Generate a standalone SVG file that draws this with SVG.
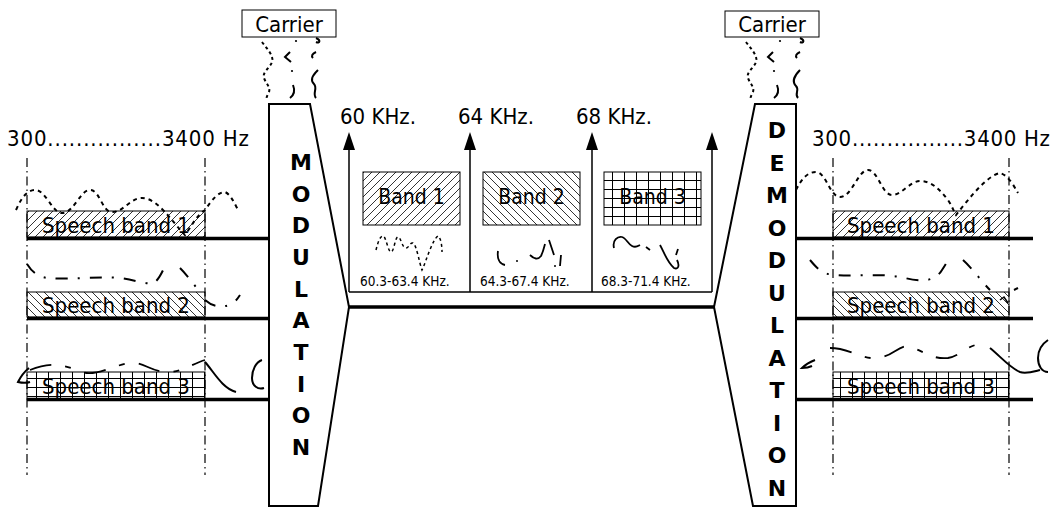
<svg xmlns="http://www.w3.org/2000/svg" width="1055" height="508" viewBox="0 0 1055 508">
<defs>
<style>
text{font-family:"DejaVu Sans Condensed","DejaVu Sans","Liberation Sans",sans-serif;font-stretch:condensed;fill:#000}
.lbl{font-size:22px}
.bnd{font-size:21px;text-anchor:middle}
.big{font-family:"DejaVu Sans","Liberation Sans",sans-serif;font-stretch:normal;font-size:22px;font-weight:bold;text-anchor:middle}
.sm{font-size:13.5px}
.box{stroke:#000;stroke-width:1}
.thick{stroke:#000;stroke-width:3.5;fill:none}
.thin{stroke:#000;stroke-width:1.5;fill:none}
.dd{stroke:#000;stroke-width:1.2;stroke-dasharray:9 4 1.5 4;fill:none}
.w1{stroke:#000;stroke-width:2;stroke-dasharray:4 4;fill:none}
.w2{stroke:#000;stroke-width:2;stroke-dasharray:12 10 2 10;fill:none}
.w3{stroke:#000;stroke-width:1.8;stroke-dasharray:22 14 6 14;fill:none}
.ws{stroke:#000;stroke-width:2;stroke-dasharray:3 3;fill:none}
.blk{fill:#fff;stroke:#000;stroke-width:2}
.head{fill:#000}
</style>
<pattern id="hf" patternUnits="userSpaceOnUse" width="8" height="8">
<path d="M-2,10 L10,-2 M-2,2 L2,-2 M6,10 L10,6" stroke="#000" stroke-width="0.8"/>
</pattern>
<pattern id="hb" patternUnits="userSpaceOnUse" width="8" height="8">
<path d="M-2,-2 L10,10 M-2,6 L2,10 M6,-2 L10,2" stroke="#000" stroke-width="0.8"/>
</pattern>
<pattern id="grid" patternUnits="userSpaceOnUse" width="12" height="9">
<path d="M0.5,0 V9 M0,0.5 H12" stroke="#000" stroke-width="1"/>
</pattern>
<path id="tri" d="M0,0 L6,18 L-6,18 Z"/>
</defs>
<rect width="1055" height="508" fill="#fff"/>

<g id="connectors">
<path class="thick" d="M27,238.5 H269 M27,318.5 H269 M27,399.5 H269"/>
<path class="thick" d="M796,238.5 H1033 M796,318.5 H1033 M796,399.5 H1033"/>
<path class="thick" d="M349,307 H714"/>
<path class="thin" d="M349,292 H712"/>
<path class="thin" d="M349,292 V146 M470,292 V146 M592,292 V146 M712,292 V146"/>
<use href="#tri" class="head" x="349" y="132"/>
<use href="#tri" class="head" x="470" y="132"/>
<use href="#tri" class="head" x="592" y="132"/>
<use href="#tri" class="head" x="712" y="132"/>
</g>

<g id="left-channels">
<text class="lbl" x="7" y="146" textLength="242" lengthAdjust="spacing">300................3400 Hz</text>
<path class="dd" d="M27,158 V475 M205,158 V475"/>
<rect class="box" x="27" y="211" width="178" height="26" fill="url(#hf)"/>
<rect class="box" x="27" y="292" width="178" height="25" fill="url(#hb)"/>
<rect class="box" x="27" y="372" width="178" height="27" fill="url(#grid)"/>
<text class="lbl" x="116" y="233" text-anchor="middle">Speech band 1</text>
<text class="lbl" x="116" y="313" text-anchor="middle">Speech band 2</text>
<text class="lbl" x="116" y="394" text-anchor="middle">Speech band 3</text>
<path class="w1" d="M16,210 C22,196 28,190 35,190 C46,190 52,213 62,213 C74,213 80,190 90,190 C100,190 102,212 112,212 C124,212 130,198 142,198 C158,198 172,222 185,235 C192,225 198,214 205,210 C212,200 218,192 225,192 C230,194 234,202 238,210"/>
<path class="w2" d="M27,264 C32,272 38,277 48,278 C70,280 100,276 120,278 C140,281 150,286 155,282 C160,278 163,270 166,264 M180,268 C188,276 194,285 200,292 M205,300 C212,306 220,309 232,304 C236,301 238,298 240,295"/>
<path class="w3" d="M30,370 C50,362 62,364 82,372 C96,377 110,366 130,363 C145,362 150,372 168,372 C182,372 192,364 205,360"/>
<path stroke="#000" stroke-width="2" fill="none" d="M29,368 C24,372 20,378 18,382 C22,383 27,383 30,382 M205,362 C214,372 222,388 236,392 M262,360 C256,362 252,370 252,378 C252,386 258,390 264,388"/>
</g>

<g id="carrier-left">
<rect class="box" x="242" y="10" width="94" height="27" fill="#fff"/>
<text class="lbl" x="289" y="32" text-anchor="middle">Carrier</text>
<path class="ws" d="M262,42 C268,50 274,56 272,62 C270,68 262,72 264,78 C266,84 272,88 268,94 C266,98 266,100 268,100"/>
<path stroke="#000" stroke-width="2" fill="none" d="M290,52 L285,57 L291,62 M293,85 C295,90 294,95 290,98"/>
<circle cx="292" cy="71" r="1.1" fill="#000"/>
<circle cx="296" cy="41" r="1.1" fill="#000"/>
<path stroke="#000" stroke-width="2" fill="none" d="M316,38 C321,40 320,44 316,42 M316,52 C312,54 311,56 313,58 M318,70 C312,76 310,80 314,84 C318,88 312,94 316,98"/>
</g>

<g id="modulation">
<polygon class="blk" points="269,104 310,104 349,307 318,506 269,506"/>
<text class="big" x="301" y="170">M</text>
<text class="big" x="301" y="201.7">O</text>
<text class="big" x="301" y="233.3">D</text>
<text class="big" x="301" y="265">U</text>
<text class="big" x="301" y="296.7">L</text>
<text class="big" x="301" y="328.3">A</text>
<text class="big" x="301" y="360">T</text>
<text class="big" x="301" y="391.7">I</text>
<text class="big" x="301" y="423.3">O</text>
<text class="big" x="301" y="455">N</text>
</g>

<g id="group-band">
<text class="lbl" x="340" y="124">60 KHz.</text>
<text class="lbl" x="458" y="124">64 KHz.</text>
<text class="lbl" x="576" y="124">68 KHz.</text>
<rect class="box" x="363" y="172" width="97" height="53" fill="url(#hf)"/>
<rect class="box" x="483" y="172" width="97" height="53" fill="url(#hb)"/>
<rect class="box" x="604" y="172" width="97" height="53" fill="url(#grid)"/>
<text class="bnd" x="411.5" y="204">Band 1</text>
<text class="bnd" x="531.5" y="204">Band 2</text>
<text class="bnd" x="652.5" y="204">Band 3</text>
<path stroke="#000" stroke-width="1.5" stroke-dasharray="3 3" fill="none" d="M376,250 C378,242 380,236 383,236 C386,236 388,252 391,252 C394,252 395,237 398,237 C401,237 402,248 406,248 C409,248 410,242 413,243 C417,246 419,262 422,270 C426,262 432,240 438,236 C441,238 442,246 442,252"/>
<path stroke="#000" stroke-width="1.8" fill="none" d="M498,251 C497,258 499,264 505,265 M530,255 C534,259 538,260 541,256 C543,252 544,248 545,244 M549,240 L554,255 M561,255 L560,266"/>
<circle cx="517" cy="261" r="1" fill="#000"/>
<circle cx="555" cy="266" r="1" fill="#000"/>
<path stroke="#000" stroke-width="1.8" fill="none" d="M614,248 C612,240 618,236 622,237 C626,238 628,244 632,246 C636,248 638,246 640,245 M646,247 L650,250 M660,245 C664,252 667,262 674,268 C678,270 680,266 677,260 M676,255 L678,249"/>
<text class="sm" x="360" y="286">60.3-63.4 KHz.</text>
<text class="sm" x="480" y="286">64.3-67.4 KHz.</text>
<text class="sm" x="601" y="286">68.3-71.4 KHz.</text>
</g>

<g id="carrier-right">
<rect class="box" x="725" y="11" width="94" height="26" fill="#fff"/>
<text class="lbl" x="772" y="32" text-anchor="middle">Carrier</text>
<path class="ws" d="M746,42 C752,50 758,56 756,62 C754,68 746,72 748,78 C750,84 756,88 752,94 C750,98 750,100 752,100"/>
<path stroke="#000" stroke-width="2" fill="none" d="M773,52 L768,57 L774,62 M777,85 C779,90 778,95 774,98"/>
<circle cx="774" cy="71" r="1.1" fill="#000"/>
<circle cx="780" cy="41" r="1.1" fill="#000"/>
<path stroke="#000" stroke-width="2" fill="none" d="M800,38 C805,40 804,44 800,42 M800,52 C796,54 795,56 797,58 M800,70 C794,76 792,82 796,86 C800,90 794,94 798,98"/>
</g>

<g id="demodulation">
<polygon class="blk" points="755,104 796,104 796,506 753,506 714,307"/>
<text class="big" x="777" y="138">D</text>
<text class="big" x="777" y="170.5">E</text>
<text class="big" x="777" y="203">M</text>
<text class="big" x="777" y="235.5">O</text>
<text class="big" x="777" y="268">D</text>
<text class="big" x="777" y="300.5">U</text>
<text class="big" x="777" y="333">L</text>
<text class="big" x="777" y="365.5">A</text>
<text class="big" x="777" y="398">T</text>
<text class="big" x="777" y="430.5">I</text>
<text class="big" x="777" y="463">O</text>
<text class="big" x="777" y="495.5">N</text>
</g>

<g id="right-channels">
<text class="lbl" x="812" y="146" textLength="238" lengthAdjust="spacing">300................3400 Hz</text>
<path class="dd" d="M833,158 V475 M1009,158 V475"/>
<rect class="box" x="833" y="211" width="176" height="26" fill="url(#hf)"/>
<rect class="box" x="833" y="292" width="176" height="25" fill="url(#hb)"/>
<rect class="box" x="833" y="372" width="176" height="27" fill="url(#grid)"/>
<text class="lbl" x="921" y="233" text-anchor="middle">Speech band 1</text>
<text class="lbl" x="921" y="313" text-anchor="middle">Speech band 2</text>
<text class="lbl" x="921" y="394" text-anchor="middle">Speech band 3</text>
<path class="w1" d="M796,190 C802,178 808,172 816,172 C826,172 830,197 840,197 C852,197 858,170 868,170 C878,170 882,195 892,195 C902,195 910,181 920,181 C932,181 940,190 948,200 C952,206 954,212 956,215 C968,200 986,176 1000,173 C1008,175 1014,186 1018,193"/>
<path class="w2" d="M810,260 C815,266 820,272 828,274 C850,278 880,272 905,278 C920,282 935,282 942,270 C946,264 948,260 950,258 M963,260 C972,268 982,282 990,290 M1014,290 L1018,288"/>
<path stroke="#000" stroke-width="1.5" fill="none" d="M1000,300 L1004,297 L1008,303"/>
<path class="w3" d="M830,348 C850,348 862,360 878,358 C892,356 896,348 906,346 C920,348 930,360 948,358 C960,356 966,346 980,344"/>
<path stroke="#000" stroke-width="2" fill="none" d="M815,360 C810,362 804,366 802,368 C806,368 810,367 812,366 M990,348 C1000,356 1010,368 1020,372 C1026,374 1032,372 1040,370 M1048,340 C1042,344 1038,350 1038,358 C1038,366 1042,372 1048,372"/>
</g>
</svg>
